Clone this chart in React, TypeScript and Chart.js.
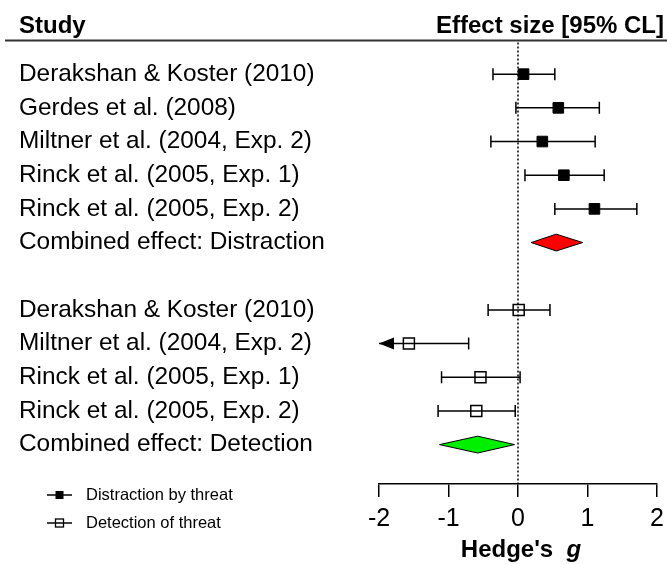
import React, { useEffect, useRef } from 'react';
import { Chart, registerables } from 'chart.js';
Chart.register(...registerables);

// ---- data ----
const distractionStudies = [
  'Derakshan & Koster (2010)',
  'Gerdes et al. (2008)',
  'Miltner et al. (2004, Exp. 2)',
  'Rinck et al. (2005, Exp. 1)',
  'Rinck et al. (2005, Exp. 2)',
];
const distractionEst = [0.08, 0.58, 0.35, 0.66, 1.1];
const distractionLow = [-0.36, -0.03, -0.39, 0.1, 0.53];
const distractionHigh = [0.53, 1.17, 1.11, 1.24, 1.71];
const distractionCombined = [0.19, 0.55, 0.93]; // low, estimate, high

const detectionStudies = [
  'Derakshan & Koster (2010)',
  'Miltner et al. (2004, Exp. 2)',
  'Rinck et al. (2005, Exp. 1)',
  'Rinck et al. (2005, Exp. 2)',
];
const detectionEst = [0.01, -1.57, -0.54, -0.6];
const detectionLow = [-0.43, -2.5, -1.1, -1.15];
const detectionHigh = [0.46, -0.71, 0.03, -0.04];
const detectionCombined = [-1.13, -0.58, -0.05]; // low, estimate, high

const combinedLabels = ['Combined effect: Distraction', 'Combined effect: Detection'];
const headerLeft = 'Study';
const headerRight = 'Effect size [95% CL]';
const xTicks = [-2, -1, 0, 1, 2];
const xTitleMain = "Hedge's ";
const xTitleItalic = 'g';
const legendLabels = ['Distraction by threat', 'Detection of threat'];

// rows
const distractionRows = distractionStudies.map((_, i) => i);
const distractionCombinedRow = distractionStudies.length;
const detectionRows = detectionStudies.map((_, i) => distractionCombinedRow + 2 + i);
const detectionCombinedRow = distractionCombinedRow + 2 + detectionStudies.length;

const rowLabels: Record<number, string> = {};
distractionRows.forEach((r, i) => (rowLabels[r] = distractionStudies[i]));
rowLabels[distractionCombinedRow] = combinedLabels[0];
detectionRows.forEach((r, i) => (rowLabels[r] = detectionStudies[i]));
rowLabels[detectionCombinedRow] = combinedLabels[1];
const allRows = Object.keys(rowLabels).map(Number).sort((a, b) => a - b);

const FONT = "'Liberation Sans', Arial, sans-serif";

const forestPlugin = {
  id: 'forest',
  beforeDatasetsDraw(chart: any) {
    const { ctx, chartArea } = chart;
    const xs = chart.scales.x;
    const ys = chart.scales.y;
    ctx.save();
    // header
    ctx.fillStyle = '#000';
    ctx.font = `bold 24px ${FONT}`;
    ctx.textBaseline = 'alphabetic';
    ctx.textAlign = 'left';
    ctx.fillText(headerLeft, 19, 33);
    ctx.textAlign = 'right';
    ctx.fillText(headerRight, 664, 33);
    ctx.strokeStyle = '#333';
    ctx.lineWidth = 2;
    ctx.beginPath();
    ctx.moveTo(5, chartArea.top);
    ctx.lineTo(667, chartArea.top);
    ctx.stroke();

    // zero line
    const x0 = xs.getPixelForValue(0);
    ctx.strokeStyle = '#000';
    ctx.lineWidth = 1.5;
    ctx.setLineDash([2, 2]);
    ctx.beginPath();
    ctx.moveTo(x0, chartArea.top + 2);
    ctx.lineTo(x0, chartArea.bottom);
    ctx.stroke();
    ctx.setLineDash([]);

    // CIs
    const drawCI = (row: number, lo: number, hi: number) => {
      const yp = ys.getPixelForValue(row);
      const clipped = lo < xs.min;
      const xl = xs.getPixelForValue(Math.max(lo, xs.min));
      const xh = xs.getPixelForValue(hi);
      ctx.strokeStyle = '#000';
      ctx.lineWidth = 1.5;
      ctx.beginPath();
      ctx.moveTo(xl, yp);
      ctx.lineTo(xh, yp);
      ctx.moveTo(xh, yp - 6);
      ctx.lineTo(xh, yp + 6);
      if (!clipped) {
        ctx.moveTo(xl, yp - 6);
        ctx.lineTo(xl, yp + 6);
      }
      ctx.stroke();
      if (clipped) {
        ctx.fillStyle = '#000';
        ctx.beginPath();
        ctx.moveTo(xl, yp);
        ctx.lineTo(xl + 15, yp - 6);
        ctx.lineTo(xl + 15, yp + 6);
        ctx.closePath();
        ctx.fill();
      }
    };
    distractionRows.forEach((r, i) => drawCI(r, distractionLow[i], distractionHigh[i]));
    detectionRows.forEach((r, i) => drawCI(r, detectionLow[i], detectionHigh[i]));

    // diamonds
    const drawDiamond = (row: number, vals: number[], color: string) => {
      const yp = ys.getPixelForValue(row);
      const h = Math.abs(ys.getPixelForValue(row + 0.25) - yp);
      ctx.fillStyle = color;
      ctx.strokeStyle = '#000';
      ctx.lineWidth = 1;
      ctx.beginPath();
      ctx.moveTo(xs.getPixelForValue(vals[0]), yp);
      ctx.lineTo(xs.getPixelForValue(vals[1]), yp - h);
      ctx.lineTo(xs.getPixelForValue(vals[2]), yp);
      ctx.lineTo(xs.getPixelForValue(vals[1]), yp + h);
      ctx.closePath();
      ctx.fill();
      ctx.stroke();
    };
    drawDiamond(distractionCombinedRow, distractionCombined, '#ff0000');
    drawDiamond(detectionCombinedRow, detectionCombined, '#00f000');
    ctx.restore();
  },
  afterDraw(chart: any) {
    const { ctx, chartArea } = chart;
    ctx.save();
    // x title
    ctx.fillStyle = '#000';
    ctx.textBaseline = 'middle';
    ctx.textAlign = 'left';
    ctx.font = `bold 24px ${FONT}`;
    const w1 = ctx.measureText(xTitleMain + ' ').width;
    ctx.font = `italic bold 24px ${FONT}`;
    const w2 = ctx.measureText(xTitleItalic).width;
    const cx = (chartArea.left + chartArea.right) / 2 + 3;
    const start = cx - (w1 + w2) / 2;
    ctx.font = `bold 24px ${FONT}`;
    ctx.fillText(xTitleMain + ' ', start, 550);
    ctx.font = `italic bold 24px ${FONT}`;
    ctx.fillText(xTitleItalic, start + w1, 550);

    // legend
    const legY = [495, 523];
    legendLabels.forEach((lab, i) => {
      const y = legY[i];
      ctx.strokeStyle = '#000';
      ctx.lineWidth = 1.5;
      ctx.beginPath();
      ctx.moveTo(47, y);
      ctx.lineTo(72, y);
      ctx.stroke();
      if (i === 0) {
        ctx.fillStyle = '#000';
        ctx.fillRect(55.5, y - 4, 8, 8);
      } else {
        ctx.lineWidth = 1.3;
        ctx.strokeRect(55.5, y - 4, 8, 8);
      }
      ctx.fillStyle = '#000';
      ctx.font = `16.5px ${FONT}`;
      ctx.textBaseline = 'middle';
      ctx.fillText(lab, 86, y);
    });
    ctx.restore();
  },
};

export default function App() {
  const ref = useRef<HTMLCanvasElement>(null);
  useEffect(() => {
    if (!ref.current) return;
    const chart = new Chart(ref.current, {
      type: 'scatter',
      data: {
        datasets: [
          {
            label: legendLabels[0],
            data: distractionRows.map((r, i) => ({ x: distractionEst[i], y: r })),
            pointStyle: 'rect',
            pointRadius: 7.5,
            backgroundColor: '#000',
            borderColor: '#000',
            borderWidth: 1,
          },
          {
            label: legendLabels[1],
            data: detectionRows.map((r, i) => ({ x: detectionEst[i], y: r })),
            pointStyle: 'rect',
            pointRadius: 7.8,
            backgroundColor: 'rgba(0,0,0,0)',
            borderColor: '#000',
            borderWidth: 1.5,
          },
        ],
      },
      options: {
        animation: false,
        responsive: false,
        devicePixelRatio: 1,
        layout: { padding: { left: 19, right: 10, top: 40.5, bottom: 0 } },
        plugins: { legend: { display: false }, tooltip: { enabled: false } },
        scales: {
          x: {
            type: 'linear',
            min: xTicks[0],
            max: xTicks[xTicks.length - 1],
            afterBuildTicks: (s: any) => {
              s.ticks = xTicks.map((v) => ({ value: v }));
            },
            afterFit: (s: any) => {
              s.height = 80;
              s.paddingLeft = 0;
              s.paddingRight = 0;
            },
            ticks: {
              color: '#000',
              font: { family: FONT, size: 25 },
              padding: 7,
              callback: (v: any) => String(v),
            },
            grid: { drawOnChartArea: false, color: '#000', lineWidth: 1.5, tickLength: 13 },
            border: { color: '#000', width: 1.5 },
          },
          y: {
            type: 'linear',
            reverse: true,
            min: -1,
            max: 12.17,
            afterBuildTicks: (s: any) => {
              s.ticks = allRows.map((v) => ({ value: v }));
            },
            afterFit: (s: any) => {
              s.width = 360;
              s.paddingTop = 0;
              s.paddingBottom = 0;
            },
            ticks: {
              autoSkip: false,
              color: '#000',
              crossAlign: 'far',
              font: { family: FONT, size: 24.4 },
              callback: (v: any) => rowLabels[v] ?? '',
            },
            grid: { display: false },
            border: { display: false },
          },
        },
      },
      plugins: [forestPlugin],
    } as any);
    return () => chart.destroy();
  }, []);
  return (
    <div style={{ position: 'fixed', left: 0, top: 0, width: 667, height: 564, background: '#fff' }}>
      <canvas ref={ref} width={667} height={564} style={{ width: 667, height: 564 }} />
    </div>
  );
}
